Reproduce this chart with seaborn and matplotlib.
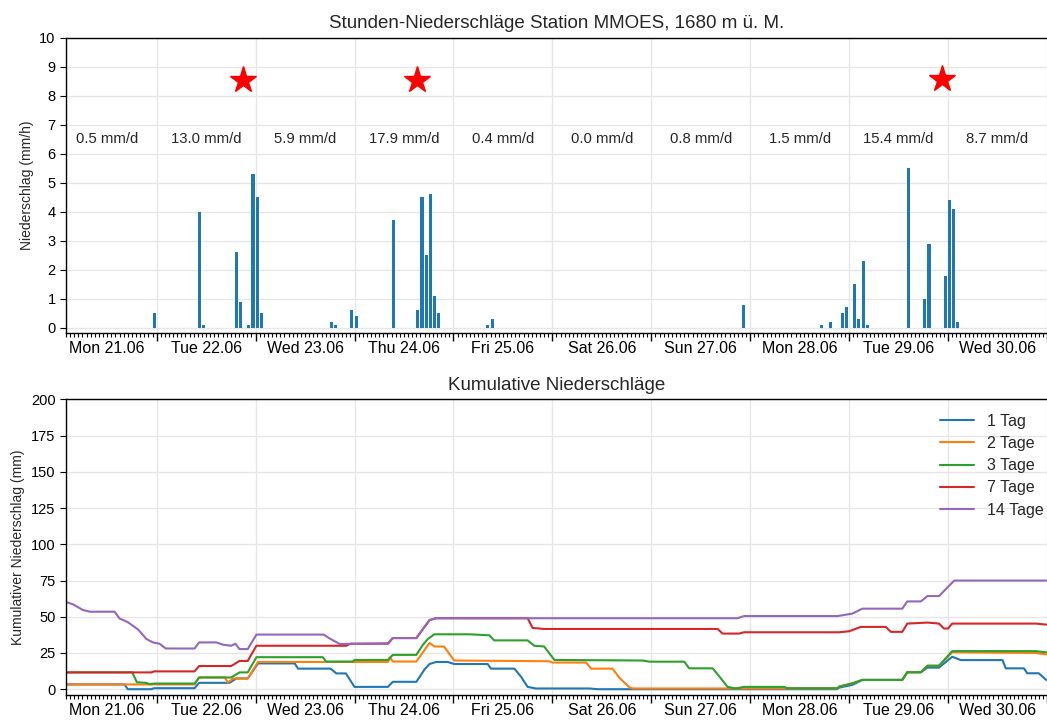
"""
Stunden- und kumulative Niederschläge, Station MMOES
"""

import pandas as pd
import matplotlib
matplotlib.use("Agg")
import matplotlib.pyplot as plt
import matplotlib.dates as mdates
from matplotlib.ticker import FuncFormatter, NullFormatter, MultipleLocator
import seaborn as sns

T0 = pd.Timestamp("2021-06-21 00:00")

# hourly precipitation (mm/h)
rain_times = [
    "2021-06-21 23:00", "2021-06-22 10:00", "2021-06-22 11:00", "2021-06-22 19:00",
    "2021-06-22 20:00", "2021-06-22 22:00", "2021-06-22 23:00", "2021-06-23 00:00",
    "2021-06-23 01:00", "2021-06-23 18:00", "2021-06-23 19:00", "2021-06-23 23:00",
    "2021-06-24 00:00", "2021-06-24 09:00", "2021-06-24 15:00", "2021-06-24 16:00",
    "2021-06-24 17:00", "2021-06-24 18:00", "2021-06-24 19:00", "2021-06-24 20:00",
    "2021-06-25 08:00", "2021-06-25 09:00", "2021-06-27 22:00", "2021-06-28 17:00",
    "2021-06-28 19:00", "2021-06-28 22:00", "2021-06-28 23:00", "2021-06-29 01:00",
    "2021-06-29 02:00", "2021-06-29 03:00", "2021-06-29 04:00", "2021-06-29 14:00",
    "2021-06-29 18:00", "2021-06-29 19:00", "2021-06-29 23:00", "2021-06-30 00:00",
    "2021-06-30 01:00", "2021-06-30 02:00",
]
rain_mm = [
    0.5, 4.0, 0.1, 2.6,
    0.9, 0.1, 5.3, 4.5,
    0.5, 0.2, 0.1, 0.6,
    0.4, 3.7, 0.6, 4.5,
    2.5, 4.6, 1.1, 0.5,
    0.1, 0.3, 0.8, 0.1,
    0.2, 0.5, 0.7, 1.5,
    0.3, 2.3, 0.1, 5.5,
    1.0, 2.9, 1.8, 4.4,
    4.1, 0.2,
]

# daily totals shown in the top panel
day_totals = [0.5, 13.0, 5.9, 17.9, 0.4, 0.0, 0.8, 1.5, 15.4, 8.7]

# thunderstorm markers
storm_times = ["2021-06-22 21:00", "2021-06-24 15:15", "2021-06-29 22:30"]
storm_level = [8.55, 8.55, 8.6]

# cumulative sums, read as (hours since Mon 21.06 00:00, mm)
series_labels = ["1 Tag", "2 Tage", "3 Tage", "7 Tage", "14 Tage"]

d1_hours = [2, 16.2, 17, 22.7, 23.4, 33.2, 34.3, 41.7, 43.3, 46.1, 48.6, 57.5, 58.3,
            66.2, 67.6, 69.9, 72, 80.1, 81.3, 87, 89, 90.2, 91.8, 94.6, 96.2, 104.3,
            105.1, 110.8, 112.4, 114, 116, 129, 131, 189, 189.6, 192.8, 195.2, 204.9,
            206.1, 209.4, 211, 213.8, 217, 219.1, 229.2, 230, 234.4, 235.2, 238, 239.8]
d1_mm = [3.3, 3.3, 0, 0, 0.7, 0.7, 4.4, 4.4, 7.4, 7.4, 17.8, 17.8, 14.2,
         14.2, 10.9, 10.9, 1.6, 1.6, 5.1, 5.1, 13.7, 17.4, 18.8, 18.8, 17.4, 17.4,
         14.2, 14.2, 8.6, 1.6, 0.5, 0.5, 0, 0, 1.1, 3.0, 6.4, 6.4,
         11.7, 11.7, 14.9, 14.9, 22.4, 20.1, 20.1, 14.4, 14.4, 11.0, 11.0, 6.4]

d2_hours = [2, 33.2, 34.3, 40.5, 41.3, 42.5, 46.1, 48.6, 80.1, 80.6, 81.3, 87, 90.2,
            91.4, 93.7, 96.2, 119.3, 120, 128.2, 129.4, 134.6, 136.2, 138.7, 139.5,
            189, 189.6, 192.8, 195.2, 204.9, 206.1, 209.4, 211, 213.8, 217, 237.3, 239.8]
d2_mm = [3.3, 3.3, 8.1, 8.1, 4.6, 7.4, 7.4, 18.8, 18.8, 21.9, 19.1, 19.1, 31.9,
         29.5, 29.5, 19.8, 19.3, 18.4, 18.4, 14.2, 14.2, 8.1, 1.2, 0.5,
         0.5, 1.8, 4.1, 6.4, 6.4, 11.7, 11.7, 16.2, 16.2, 25.5, 25.0, 24.0]

d3_hours = [2, 18.1, 19.2, 21.4, 22.3, 23.4, 33.2, 34.3, 42.1, 44.1, 46.1, 48.2, 64.3,
            65.1, 71.6, 72, 80.1, 81.3, 87, 88.6, 89.8, 91.4, 100, 104.7, 105.9, 114,
            115.6, 118, 120.5, 141.9, 143.5, 152, 153.2, 158.9, 160.9, 162.5, 164.5,
            166.5, 176.2, 177, 189.2, 189.6, 192.8, 195.2, 204.9, 206.1, 209.4, 211,
            213.8, 217, 237.3, 239.8]
d3_mm = [11.6, 11.6, 4.8, 4.4, 3.5, 3.9, 3.9, 8.1, 8.1, 11.6, 11.6, 22.1, 22.1,
         19.1, 19.1, 20.2, 20.2, 23.7, 23.7, 30.7, 34.7, 37.9, 37.9, 37.2, 33.7, 33.7,
         30.0, 29.5, 20.2, 19.8, 19.0, 19.0, 14.4, 14.4, 7.4, 1.6, 0.5,
         1.6, 1.6, 0.7, 0.7, 1.8, 4.1, 6.4, 6.4, 11.7, 11.7, 16.2,
         16.2, 26.3, 26.3, 25.4]

d7_hours = [2, 22.7, 23.4, 33.2, 34.3, 42.1, 44.1, 46.1, 48.2, 70, 71, 80.1, 81.3, 87,
            90.2, 91.8, 114, 115.2, 118, 160.1, 161.3, 165.3, 166.5, 189.6, 192,
            194.8, 200.9, 202.1, 204.9, 206.1, 211, 213.8, 215, 216, 217, 237.3, 239.8]
d7_mm = [11.6, 11.6, 12.3, 12.3, 16.0, 16.0, 19.5, 19.5, 30.0, 30.0, 31.4, 31.4, 35.3, 35.3,
         47.7, 49.0, 49.0, 42.3, 41.6, 41.6, 38.4, 38.4, 39.3, 39.3, 40.0,
         43.0, 43.0, 39.6, 39.6, 45.3, 46.0, 45.3, 41.9, 41.9, 45.3, 45.3, 44.6]

d14_hours = [2, 3.7, 6.1, 7.8, 13.8, 15, 17, 19.5, 21.5, 23.1, 24.7, 26.2, 33.2, 34.3,
             38.5, 40.1, 42.1, 43.1, 44.1, 46.1, 48.2, 64.5, 66, 68.4, 80.1, 81.3, 87,
             90.2, 91.8, 164.9, 166.5, 189.2, 192.8, 195.2, 204.9, 206.1, 209.4, 211,
             213.8, 217.5, 239.8]
d14_mm = [60.2, 58.6, 54.7, 53.5, 53.5, 48.8, 46.3, 41.2, 34.7, 32.3, 31.4, 28.1, 28.1, 32.3,
          32.3, 30.7, 30.0, 31.4, 27.7, 27.7, 37.7, 37.7, 35.0, 31.2, 31.7, 35.3, 35.3,
          47.7, 49.0, 49.0, 50.5, 50.5, 52.2, 55.6, 55.6, 60.6, 60.6, 64.3,
          64.3, 75.0, 75.0]

frames = []
for label, hrs, vals in zip(series_labels,
                            [d1_hours, d2_hours, d3_hours, d7_hours, d14_hours],
                            [d1_mm, d2_mm, d3_mm, d7_mm, d14_mm]):
    frames.append(pd.DataFrame({
        "time": T0 + pd.to_timedelta(hrs, unit="h"),
        "mm": vals,
        "series": label,
    }))
cum = pd.concat(frames, ignore_index=True)

sns.set_style("ticks", {"axes.grid": True, "grid.color": "#e6e6e6"})
plt.rcParams["font.family"] = ["Liberation Sans", "DejaVu Sans"]

fig, (ax1, ax2) = plt.subplots(2, 1, figsize=(10.47, 7.22), dpi=100)
fig.subplots_adjust(left=0.063, right=1.0, top=0.9474, bottom=0.0374, hspace=0.2234)

x_start = T0 + pd.Timedelta(hours=2)
x_end = T0 + pd.Timedelta(days=10)


def day_label(x, pos):
    d = mdates.num2date(x)
    return d.strftime("%a %d.%m") if d.hour == 12 else ""


def style_time_axis(ax):
    ax.set_xlim(x_start, x_end)
    ax.xaxis.set_major_locator(mdates.DayLocator())
    ax.xaxis.set_major_formatter(NullFormatter())
    ax.xaxis.set_minor_locator(mdates.HourLocator())
    ax.xaxis.set_minor_formatter(FuncFormatter(day_label))
    ax.tick_params(axis="x", which="major", length=6, width=1, colors="black")
    ax.tick_params(axis="x", which="minor", length=3, width=0.8, labelsize=11.5,
                   colors="black", pad=2.5)
    ax.tick_params(axis="y", length=4, labelsize=10.5, colors="black")
    ax.grid(True, which="major", color="#e6e6e6", linewidth=1)
    ax.grid(False, which="minor")
    ax.spines["right"].set_visible(False)
    for side in ["left", "bottom", "top"]:
        ax.spines[side].set_color("black")
        ax.spines[side].set_linewidth(1)


# Top panel: hourly bars
bar_x = mdates.date2num(pd.to_datetime(rain_times))
ax1.bar(bar_x, rain_mm, width=0.031, align="edge", color="#1f77b4", linewidth=0, zorder=3)
ax1.plot(pd.to_datetime(storm_times), storm_level, "*", color="red", markersize=20,
         linestyle="none", zorder=4)
for i, total in enumerate(day_totals):
    xt = mdates.date2num(T0 + pd.Timedelta(days=i, hours=12))
    ax1.text(xt, 6.5, f"{total:.1f} mm/d", ha="center", va="center", fontsize=10.7)
style_time_axis(ax1)
ax1.set_ylim(-0.2, 10)
ax1.yaxis.set_major_locator(MultipleLocator(1))
ax1.set_ylabel("Niederschlag (mm/h)", fontsize=10)
ax1.set_xlabel("")
ax1.set_title("Stunden-Niederschläge Station MMOES, 1680 m ü. M.", fontsize=13.5, pad=7)

# Bottom panel: cumulative sums
sns.lineplot(data=cum, x="time", y="mm", hue="series", hue_order=series_labels,
             palette=sns.color_palette("tab10", 5), estimator=None, sort=False,
             linewidth=1.5, ax=ax2)
style_time_axis(ax2)
ax2.set_ylim(-4, 200)
ax2.yaxis.set_major_locator(MultipleLocator(25))
ax2.set_ylabel("Kumulativer Niederschlag (mm)", fontsize=10)
ax2.set_xlabel("")
ax2.set_title("Kumulative Niederschläge", fontsize=13.5, pad=7)
sns.move_legend(ax2, "upper right", bbox_to_anchor=(1.003, 0.973), borderaxespad=0,
                frameon=False, title=None, fontsize=11.5, handlelength=2.1,
                labelspacing=0.45)

fig.savefig("out.png", dpi=100)
